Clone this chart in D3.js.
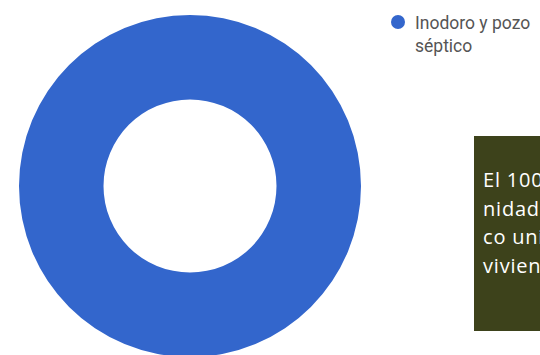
<!DOCTYPE html>
<html>
<head>
<meta charset="utf-8">
<script src="https://cdn.jsdelivr.net/npm/d3@7"></script>
<style>
  body { margin: 0; background: #fff; }
  svg { display: block; }
</style>
</head>
<body>
<div id="chart"></div>
<script>
// Data
const categories = ['Inodoro y pozo séptico'];
const values = [100];
const colors = ['#3366cc'];
const legendLines = [['Inodoro y pozo', 'séptico']];
const noteLines = ['El 100% de la comu', 'nidad tiene inodoro', 'co unido a su', 'vivienda.'];

const width = 540;
const height = 355;

const svg = d3.select('#chart')
  .append('svg')
  .attr('width', width)
  .attr('height', height);

// Donut
const pie = d3.pie().sort(null).value((d) => d);
const arc = d3.arc().innerRadius(86.5).outerRadius(171);

const donut = svg.append('g')
  .attr('transform', 'translate(190, 186)');

donut.selectAll('path')
  .data(pie(values))
  .enter()
  .append('path')
  .attr('d', arc)
  .style('fill', (d, i) => colors[i]);

// Legend
const legend = svg.append('g')
  .attr('class', 'legend')
  .attr('transform', 'translate(398, 22)');

categories.forEach((c, i) => {
  legend.append('circle')
    .attr('cx', 0)
    .attr('cy', 0)
    .attr('r', 7)
    .style('fill', colors[i]);

  const t = legend.append('text')
    .attr('x', 17)
    .attr('y', 6.5)
    .style('font-family', 'Roboto, Arial, sans-serif')
    .style('font-size', '17.5px')
    .style('fill', '#555');

  legendLines[i].forEach((line, j) => {
    t.append('tspan')
      .attr('x', 17)
      .attr('dy', j === 0 ? 0 : 23)
      .text(line);
  });
});

// Annotation box (runs off the right edge, as in the original slide)
const note = svg.append('g').attr('class', 'note');

note.append('rect')
  .attr('x', 474)
  .attr('y', 136)
  .attr('width', 120)
  .attr('height', 195)
  .style('fill', '#3d421b');

note.selectAll('text')
  .data(noteLines)
  .enter()
  .append('text')
  .attr('x', 483)
  .attr('y', (d, i) => 187 + i * 28.5)
  .style('font-family', '"Open Sans", "DejaVu Sans", sans-serif')
  .style('font-size', '20px')
  .style('letter-spacing', '0.8px')
  .style('fill', '#ffffff')
  .text((d) => d);
</script>
</body>
</html>
